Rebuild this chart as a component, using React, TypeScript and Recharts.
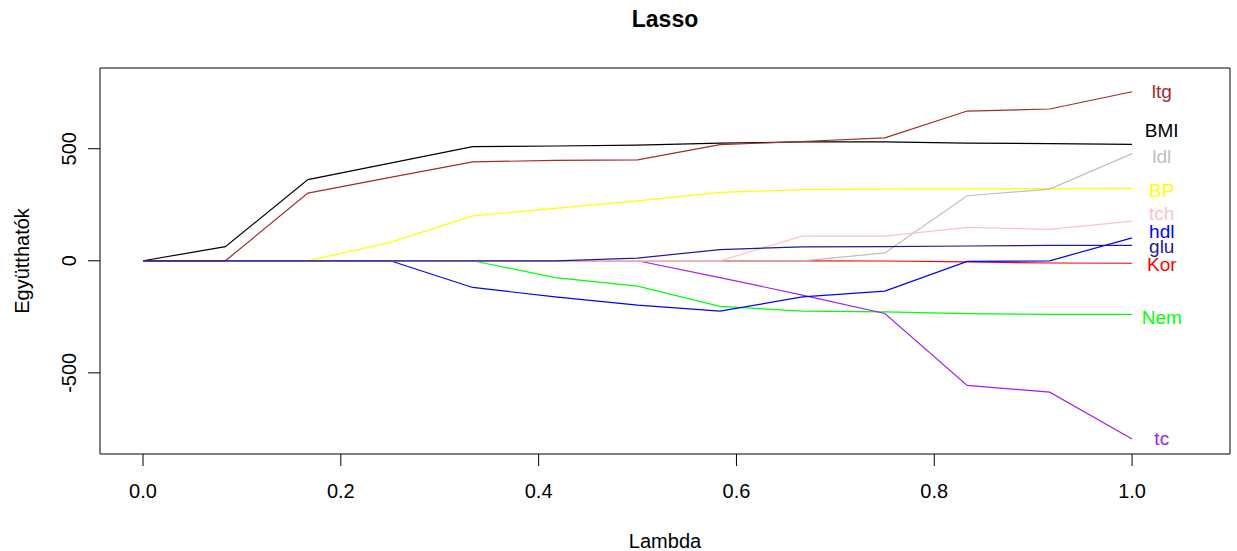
import React from 'react';
import { LineChart, Line, XAxis, YAxis, ReferenceArea, ReferenceDot } from 'recharts';

const lambdas = [0, 0.0833, 0.1667, 0.25, 0.3333, 0.4167, 0.5, 0.5833, 0.6667, 0.75, 0.8333, 0.9167, 1];

const kor = [0, 0, 0, 0, 0, 0, 0, 0, 0, -1, -5, -10, -11];
const nem = [0, 0, 0, 0, 0, -75, -113, -203, -225, -228, -236, -239, -239];
const bmi = [0, 63, 362, 436, 509, 512, 516, 525, 530, 530, 525, 523, 519];
const bp = [0, 0, 0, 82, 200, 234, 267, 305, 317, 320, 321, 322, 323];
const tc = [0, 0, 0, 0, 0, 0, 0, -75, -153, -235, -556, -586, -795];
const ldl = [0, 0, 0, 0, 0, 0, 0, 0, 0, 35, 290, 320, 478];
const hdl = [0, 0, 0, 0, -119, -161, -198, -225, -161, -135, -3, 0, 102];
const tch = [0, 0, 0, 0, 0, 0, 0, 0, 110, 110, 149, 140, 177];
const ltg = [0, 0, 302, 372, 441, 448, 450, 518, 532, 548, 668, 677, 754];
const glu = [0, 0, 0, 0, 0, 0, 12, 50, 62, 63, 66, 69, 69];

const seriesNames = ['Kor', 'Nem', 'BMI', 'BP', 'tc', 'ldl', 'hdl', 'tch', 'ltg', 'glu'];
const seriesValues = [kor, nem, bmi, bp, tc, ldl, hdl, tch, ltg, glu];
const seriesColors = ['#FF0000', '#00FF00', '#000000', '#FFFF00', '#A020F0', '#BEBEBE', '#0000FF', '#FFC0CB', '#A52A2A', '#1c1c96'];

// where the variable names sit at the right end of the paths
const labelX = 1.03;
const labelY = [-18, -252, 581, 315, -795, 464, 131, 212, 754, 63];

const xTicks = [0, 0.2, 0.4, 0.6, 0.8, 1.0];
const yTicks = [-500, 0, 500];

const data = lambdas.map((l, i) => {
  const row: Record<string, number> = { lambda: l };
  seriesNames.forEach((name, j) => {
    row[name] = seriesValues[j][i];
  });
  return row;
});

const FONT = "'Liberation Sans', Arial, sans-serif";
const X_MIN = -0.0435;
const X_MAX = 1.099;
const Y_MIN = -862;
const Y_MAX = 860;

const YTick = (props: any) => {
  const { x, y, payload } = props;
  return (
    <text
      x={x}
      y={y}
      transform={`rotate(-90 ${x} ${y})`}
      textAnchor="middle"
      fontSize={20}
      fontFamily={FONT}
      fill="#000"
    >
      {payload.value}
    </text>
  );
};

export default function App() {
  return (
    <div style={{ position: 'absolute', left: 0, top: 0, width: 1237, height: 551, background: '#fff' }}>
      <div
        style={{
          position: 'absolute',
          left: 100,
          width: 1130,
          top: 6,
          textAlign: 'center',
          fontFamily: FONT,
          fontWeight: 'bold',
          fontSize: 23,
          color: '#000',
        }}
      >
        Lasso
      </div>
      <LineChart width={1237} height={551} data={data} margin={{ top: 68, right: 7, left: 0, bottom: 0 }}>
        <XAxis
          dataKey="lambda"
          type="number"
          domain={[X_MIN, X_MAX]}
          ticks={xTicks}
          tickFormatter={(v: number) => v.toFixed(1)}
          axisLine={false}
          tickSize={12}
          tickMargin={18}
          height={97}
          stroke="#000"
          tick={{ fill: '#000', fontSize: 20, fontFamily: FONT }}
          label={{
            content: () => (
              <text x={665} y={541} textAnchor="middle" dominantBaseline="central" fontSize={20} fontFamily={FONT} fill="#000">
                Lambda
              </text>
            ),
          }}
        />
        <YAxis
          type="number"
          domain={[Y_MIN, Y_MAX]}
          ticks={yTicks}
          axisLine={false}
          tickSize={12}
          tickMargin={12}
          width={100}
          stroke="#000"
          tick={<YTick />}
          label={{
            content: () => (
              <text
                x={22}
                y={261}
                transform="rotate(-90 22 261)"
                textAnchor="middle"
                dominantBaseline="central"
                fontSize={20}
                fontFamily={FONT}
                fill="#000"
              >
                Együtthatók
              </text>
            ),
          }}
        />
        <ReferenceArea x1={X_MIN} x2={X_MAX} y1={Y_MIN} y2={Y_MAX} fill="none" stroke="#000" strokeWidth={1} />
        {seriesNames.map((name, j) => (
          <Line
            key={name}
            type="linear"
            dataKey={name}
            stroke={seriesColors[j]}
            strokeWidth={1.2}
            dot={false}
            activeDot={false}
            isAnimationActive={false}
          />
        ))}
        {seriesNames.map((name, j) => (
          <ReferenceDot
            key={'lab-' + name}
            x={labelX}
            y={labelY[j]}
            r={0}
            fill="none"
            stroke="none"
            label={{
              content: (p: any) => {
                const vb = p.viewBox || {};
                const cx = (vb.x || 0) + (vb.width || 0) / 2;
                const cy = (vb.y || 0) + (vb.height || 0) / 2;
                return (
                  <text x={cx} y={cy} textAnchor="middle" dominantBaseline="central" fontSize={19} fontFamily={FONT} fill={seriesColors[j]}>
                    {name}
                  </text>
                );
              },
            }}
          />
        ))}
      </LineChart>
    </div>
  );
}
